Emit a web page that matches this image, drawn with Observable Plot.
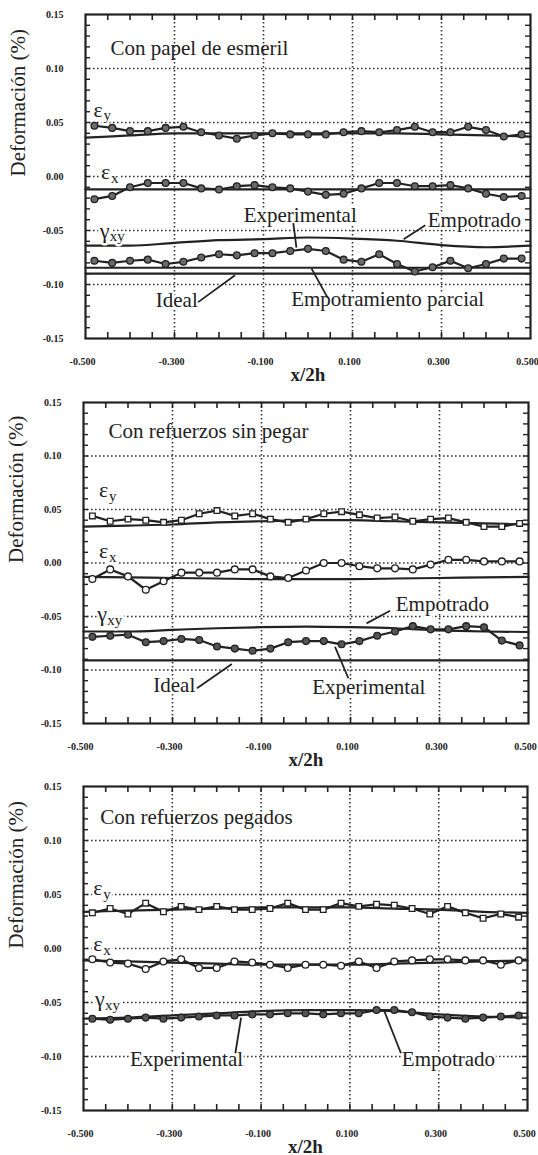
<!DOCTYPE html>
<html>
<head>
<meta charset="utf-8">
<script src="https://cdn.jsdelivr.net/npm/d3@7"></script>
<script src="https://cdn.jsdelivr.net/npm/@observablehq/plot@0.6"></script>
<style>
  body { margin: 0; background: #fff; }
  #chart svg { display: block; font-family: "Liberation Serif", "Times New Roman", serif; }
</style>
</head>
<body>
<div id="chart"></div>
<script>
// ---------- shared axis values ----------
const xTickValues = [-0.5, -0.3, -0.1, 0.1, 0.3, 0.5];
const yTickValues = [0.15, 0.10, 0.05, 0.00, -0.05, -0.10, -0.15];
const xGridValues = [-0.3, -0.1, 0.1, 0.3];
const yGridValues = [0.10, 0.05, 0.00, -0.05, -0.10];
const xMinorTicks = [-0.45, -0.4, -0.35, -0.3, -0.25, -0.2, -0.15, -0.1, -0.05, 0, 0.05, 0.1, 0.15, 0.2, 0.25, 0.3, 0.35, 0.4, 0.45];
const yMinorTicks = [-0.14, -0.13, -0.12, -0.11, -0.10, -0.09, -0.08, -0.07, -0.06, -0.05, -0.04, -0.03, -0.02, -0.01, 0,
                     0.01, 0.02, 0.03, 0.04, 0.05, 0.06, 0.07, 0.08, 0.09, 0.10, 0.11, 0.12, 0.13, 0.14];

// measurement positions x/2h
const xMeas = [-0.48, -0.44, -0.40, -0.36, -0.32, -0.28, -0.24, -0.20, -0.16, -0.12, -0.08, -0.04, 0.00,
               0.04, 0.08, 0.12, 0.16, 0.20, 0.24, 0.28, 0.32, 0.36, 0.40, 0.44, 0.48];
// theoretical curve knots
const xTheory = [-0.5, -0.4, -0.3, -0.2, -0.1, 0, 0.1, 0.2, 0.3, 0.4, 0.5];

// ---------- Panel 1: Con papel de esmeril ----------
const p1EpsY = [0.047, 0.045, 0.042, 0.042, 0.045, 0.046, 0.041, 0.038, 0.035, 0.038, 0.040, 0.039, 0.039,
                0.039, 0.041, 0.042, 0.041, 0.043, 0.046, 0.041, 0.041, 0.046, 0.043, 0.037, 0.039];
const p1EpsX = [-0.021, -0.018, -0.010, -0.006, -0.006, -0.006, -0.011, -0.012, -0.009, -0.008, -0.010, -0.011, -0.014,
                -0.017, -0.016, -0.011, -0.006, -0.006, -0.009, -0.009, -0.008, -0.011, -0.016, -0.019, -0.018];
const p1GamXY = [-0.078, -0.080, -0.078, -0.077, -0.081, -0.079, -0.075, -0.072, -0.073, -0.071, -0.071, -0.069, -0.067,
                 -0.069, -0.077, -0.079, -0.072, -0.081, -0.088, -0.084, -0.078, -0.085, -0.081, -0.076, -0.076];
const p1ThEpsY = [0.036, 0.038, 0.040, 0.040, 0.040, 0.040, 0.040, 0.040, 0.039, 0.038, 0.037];
const p1ThEpsX = [-0.012, -0.012, -0.012, -0.012, -0.012, -0.012, -0.012, -0.012, -0.012, -0.012, -0.012];
const p1ThEmpotrado = [-0.064, -0.064, -0.0615, -0.059, -0.058, -0.0565, -0.0575, -0.0595, -0.0635, -0.0655, -0.064];
const p1ThParcial = [-0.0845, -0.0845, -0.0845, -0.0845, -0.0845, -0.0845, -0.0845, -0.0845, -0.0845, -0.0845, -0.0845];
const p1ThIdeal = [-0.090, -0.090, -0.090, -0.090, -0.090, -0.090, -0.090, -0.090, -0.090, -0.090, -0.090];

// ---------- Panel 2: Con refuerzos sin pegar ----------
const p2EpsY = [0.044, 0.039, 0.041, 0.040, 0.038, 0.040, 0.046, 0.049, 0.044, 0.046, 0.041, 0.038, 0.041,
                0.046, 0.048, 0.045, 0.042, 0.043, 0.039, 0.041, 0.042, 0.038, 0.034, 0.034, 0.037];
const p2EpsX = [-0.015, -0.006, -0.0125, -0.025, -0.017, -0.009, -0.009, -0.009, -0.006, -0.006, -0.0125, -0.014, -0.007,
                0.000, 0.000, -0.003, -0.005, -0.005, -0.006, -0.0015, 0.003, 0.003, 0.0015, 0.0015, 0.0015];
const p2GamXY = [-0.069, -0.068, -0.067, -0.074, -0.073, -0.071, -0.072, -0.078, -0.080, -0.082, -0.080, -0.074, -0.073,
                 -0.073, -0.076, -0.073, -0.068, -0.064, -0.059, -0.062, -0.062, -0.059, -0.060, -0.0725, -0.077];
const p2ThEpsY = [0.034, 0.035, 0.036, 0.038, 0.039, 0.040, 0.040, 0.039, 0.038, 0.037, 0.036];
const p2ThEpsX = [-0.013, -0.0135, -0.014, -0.0145, -0.015, -0.015, -0.015, -0.0145, -0.014, -0.0135, -0.013];
const p2ThEmpotrado = [-0.064, -0.064, -0.0625, -0.061, -0.060, -0.0595, -0.060, -0.061, -0.063, -0.064, -0.0645];
const p2ThIdeal = [-0.091, -0.091, -0.091, -0.091, -0.091, -0.091, -0.091, -0.091, -0.091, -0.091, -0.091];

// ---------- Panel 3: Con refuerzos pegados ----------
const p3EpsY = [0.033, 0.037, 0.032, 0.042, 0.034, 0.039, 0.036, 0.039, 0.036, 0.036, 0.037, 0.042, 0.036,
                0.036, 0.042, 0.039, 0.041, 0.040, 0.037, 0.032, 0.039, 0.033, 0.028, 0.032, 0.029];
const p3EpsX = [-0.010, -0.013, -0.014, -0.019, -0.012, -0.010, -0.018, -0.018, -0.012, -0.013, -0.015, -0.018, -0.015,
                -0.015, -0.016, -0.012, -0.018, -0.012, -0.011, -0.010, -0.010, -0.011, -0.011, -0.015, -0.011];
const p3GamXY = [-0.065, -0.066, -0.065, -0.064, -0.065, -0.064, -0.063, -0.062, -0.062, -0.061, -0.061, -0.060, -0.060,
                 -0.061, -0.060, -0.060, -0.057, -0.057, -0.059, -0.063, -0.064, -0.065, -0.064, -0.063, -0.062];
const p3ThEpsY = [0.034, 0.035, 0.036, 0.037, 0.038, 0.038, 0.038, 0.037, 0.036, 0.034, 0.033];
const p3ThEpsX = [-0.011, -0.012, -0.013, -0.014, -0.015, -0.015, -0.015, -0.014, -0.013, -0.012, -0.011];
const p3ThEmpotrado = [-0.065, -0.064, -0.062, -0.060, -0.058, -0.057, -0.057, -0.058, -0.061, -0.063, -0.064];

// ---------- texts ----------
const titles = ["Con papel de esmeril", "Con refuerzos sin pegar", "Con refuerzos pegados"];
const yLabel = "Deformación (%)";
const xLabel = "x/2h";

// ---------- build ----------
const FONT = "Liberation Serif";
const INK = "#222";
const rows = (xs, ys) => xs.map((x, i) => ({x, y: ys[i]}));

function panel(cfg) {
  const W = 538;
  const fh = cfg.height - cfg.mt - cfg.mb;
  const fw = W - cfg.ml - cfg.mr;
  const gridStyle = {stroke: "#333", strokeOpacity: 1, strokeWidth: 1.6, strokeDasharray: "1.6,2.4"};
  const halo = {stroke: "white", strokeWidth: 5, paintOrder: "stroke", fill: INK, fontFamily: FONT};
  const marks = [
    Plot.gridX(xGridValues, gridStyle),
    Plot.gridY(yGridValues, gridStyle),
    Plot.tickX(xMinorTicks, {x: d => d, insetTop: fh - 6, stroke: INK, strokeWidth: 1.6}),
    Plot.tickX(xMinorTicks, {x: d => d, insetBottom: fh - 6, stroke: INK, strokeWidth: 1.6}),
    Plot.tickY(yMinorTicks, {y: d => d, insetRight: fw - 5, stroke: INK, strokeWidth: 1.4}),
    Plot.tickY(yMinorTicks, {y: d => d, insetLeft: fw - 5, stroke: INK, strokeWidth: 1.4})
  ];
  // theoretical curves
  for (const th of cfg.theory) {
    marks.push(Plot.line(rows(xTheory, th), {x: "x", y: "y", curve: "monotone-x", stroke: INK, strokeWidth: 2.2}));
  }
  // text labels (halo) before data so the data stays visible
  marks.push(
    Plot.text(cfg.symbols, {x: "x", y: "y", text: "sym", textAnchor: "start", fontSize: 22, ...halo}),
    Plot.text(cfg.symbols, {x: "x", y: "y", text: "sub", textAnchor: "start", dx: 10, dy: 6, fontSize: 15, ...halo}),
    Plot.text(cfg.notes, {x: "x", y: "y", text: "t", fontSize: 21, ...halo}),
    Plot.text([cfg.title], {x: cfg.titlePos[0], y: cfg.titlePos[1], text: d => d, textAnchor: "start",
                            fontSize: 21, fill: INK, fontFamily: FONT})
  );
  // experimental series
  for (const s of cfg.exp) {
    const data = rows(xMeas, s.values);
    marks.push(Plot.line(data, {x: "x", y: "y", stroke: INK, strokeWidth: 2.2}));
    marks.push(Plot.dot(data, {x: "x", y: "y", symbol: s.symbol, r: s.symbol === "square" ? 3.2 : 3.4,
                               fill: s.fill, stroke: INK, strokeWidth: 1.3}));
  }
  marks.push(
    Plot.link(cfg.leaders, {x1: "x1", y1: "y1", x2: "x2", y2: "y2", stroke: INK, strokeWidth: 1.8}),
    Plot.frame({stroke: INK, strokeWidth: 2.2}),
    Plot.axisX(xTickValues, {tickSize: 0, tickPadding: 19, dx: -3, tickFormat: d => d.toFixed(3), fontSize: 10,
                             fontWeight: "bold", fill: INK, label: null, fontFamily: FONT}),
    Plot.axisY(yTickValues, {tickSize: 0, tickPadding: 22, tickFormat: d => d.toFixed(2), fontSize: 10,
                             fontWeight: "bold", fill: INK, label: null, fontFamily: FONT}),
    Plot.text([yLabel], {frameAnchor: "left", dx: -67, rotate: -90, text: d => d, fontSize: 21, fill: INK, fontFamily: FONT}),
    Plot.text([xLabel], {frameAnchor: "bottom", dy: 42, text: d => d, fontSize: 19, fontWeight: "bold", fill: INK, fontFamily: FONT})
  );
  return Plot.plot({
    width: W, height: cfg.height,
    marginTop: cfg.mt, marginBottom: cfg.mb, marginLeft: cfg.ml, marginRight: cfg.mr,
    style: {background: "white", color: INK, overflow: "visible"},
    x: {domain: [-0.5, 0.5]},
    y: {domain: [-0.15, 0.15]},
    marks
  });
}

const chart = document.getElementById("chart");

chart.append(panel({
  height: 387, mt: 14, mb: 49, ml: 85, mr: 8,
  title: titles[0], titlePos: [-0.444, 0.119],
  theory: [p1ThEpsY, p1ThEpsX, p1ThEmpotrado, p1ThParcial, p1ThIdeal],
  exp: [
    {values: p1EpsY, symbol: "circle", fill: "#6a6a6a"},
    {values: p1EpsX, symbol: "circle", fill: "#6a6a6a"},
    {values: p1GamXY, symbol: "circle", fill: "#6a6a6a"}
  ],
  symbols: [
    {x: -0.482, y: 0.062, sym: "ε", sub: "y"},
    {x: -0.465, y: 0.004, sym: "ε", sub: "x"},
    {x: -0.468, y: -0.050, sym: "γ", sub: "xy"}
  ],
  notes: [
    {x: -0.0175, y: -0.036, t: "Experimental"},
    {x: 0.374, y: -0.0404, t: "Empotrado"},
    {x: -0.295, y: -0.115, t: "Ideal"},
    {x: 0.179, y: -0.114, t: "Empotramiento parcial"}
  ],
  leaders: [
    {x1: -0.033, y1: -0.0432, x2: -0.026, y2: -0.0658},
    {x1: 0.2637, y1: -0.0451, x2: 0.2148, y2: -0.058},
    {x1: -0.2468, y1: -0.1163, x2: -0.164, y2: -0.0915},
    {x1: 0.044, y1: -0.1122, x2: 0.008, y2: -0.0853}
  ]
}));

chart.append(panel({
  height: 385, mt: 15, mb: 49, ml: 83, mr: 10,
  title: titles[1], titlePos: [-0.444, 0.1234],
  theory: [p2ThEpsY, p2ThEpsX, p2ThEmpotrado, p2ThIdeal],
  exp: [
    {values: p2EpsY, symbol: "square", fill: "white"},
    {values: p2EpsX, symbol: "circle", fill: "white"},
    {values: p2GamXY, symbol: "circle", fill: "#555"}
  ],
  symbols: [
    {x: -0.465, y: 0.068, sym: "ε", sub: "y"},
    {x: -0.465, y: 0.011, sym: "ε", sub: "x"},
    {x: -0.469, y: -0.048, sym: "γ", sub: "xy"}
  ],
  notes: [
    {x: 0.3066, y: -0.0389, t: "Empotrado"},
    {x: -0.296, y: -0.1145, t: "Ideal"},
    {x: 0.141, y: -0.116, t: "Experimental"}
  ],
  leaders: [
    {x1: 0.189, y1: -0.0447, x2: 0.136, y2: -0.0564},
    {x1: -0.245, y1: -0.117, x2: -0.1667, y2: -0.0944},
    {x1: 0.0952, y1: -0.1077, x2: 0.0653, y2: -0.0783}
  ]
}));

chart.append(panel({
  height: 383, mt: 14, mb: 45, ml: 83, mr: 11,
  title: titles[2], titlePos: [-0.4625, 0.1218],
  theory: [p3ThEpsY, p3ThEpsX, p3ThEmpotrado],
  exp: [
    {values: p3EpsY, symbol: "square", fill: "white"},
    {values: p3EpsX, symbol: "circle", fill: "white"},
    {values: p3GamXY, symbol: "circle", fill: "#555"}
  ],
  symbols: [
    {x: -0.478, y: 0.056, sym: "ε", sub: "y"},
    {x: -0.478, y: 0.004, sym: "ε", sub: "x"},
    {x: -0.474, y: -0.047, sym: "γ", sub: "xy"}
  ],
  notes: [
    {x: -0.268, y: -0.103, t: "Experimental"},
    {x: 0.322, y: -0.103, t: "Empotrado"}
  ],
  leaders: [
    {x1: -0.158, y1: -0.097, x2: -0.145, y2: -0.064},
    {x1: 0.215, y1: -0.097, x2: 0.178, y2: -0.0585}
  ]
}));
</script>
</body>
</html>
